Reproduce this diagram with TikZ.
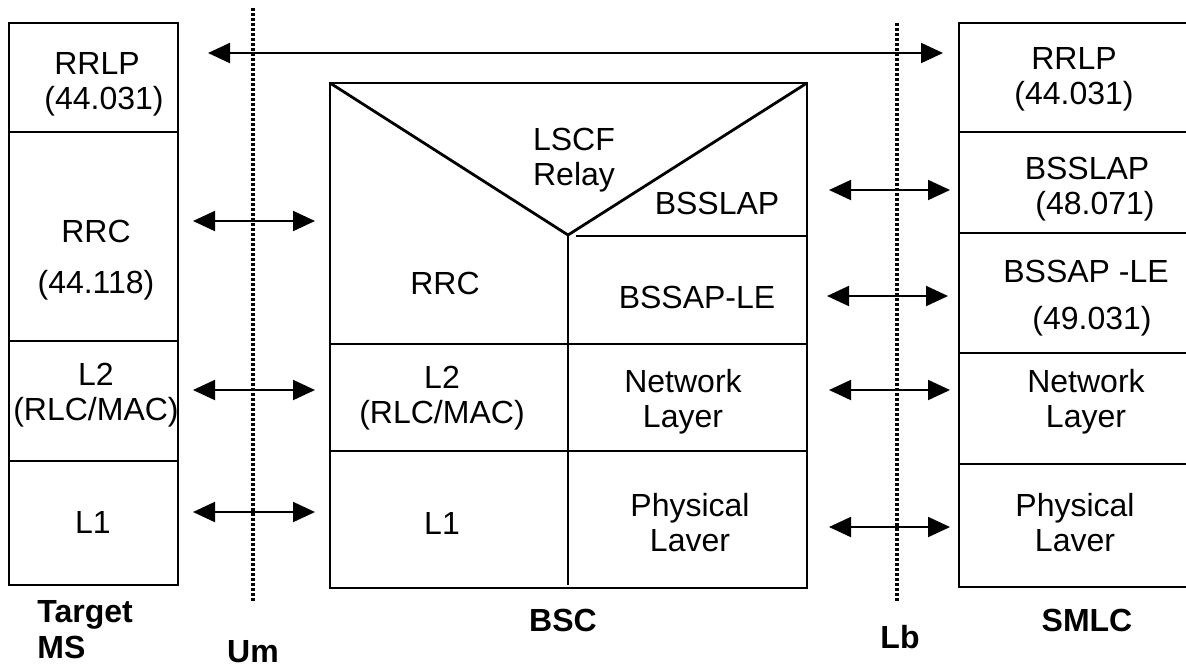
\documentclass[tikz,border=0pt]{standalone}
\usepackage{fontspec}
\setmainfont{Liberation Sans}
\usetikzlibrary{arrows.meta,positioning}

\begin{document}
\begin{tikzpicture}[x=0.5pt,y=-0.5pt,>={Triangle[length=11pt,width=10pt]},
  box/.style={line width=1.4pt},
  lbl/.style={font=\fontsize{16}{17.5}\selectfont,align=center,inner sep=0pt},
  entity/.style={font=\fontsize{16}{18}\selectfont\bfseries,inner sep=0pt},
  link/.style={<->,line width=1pt},
  iface/.style={line width=1.6pt,dash pattern=on 1.5pt off 1pt}]
  \useasboundingbox (0,0) rectangle (1186,671);

  % Target MS
  \draw[box] (9,23) rectangle (178,585);
  \foreach \y in {132,341,461} \draw[box] (9,\y) -- (178,\y);
  \node[lbl] (ms-rrlp) at (97,84) {RRLP\\\hspace*{7pt}(44.031)};
  \node[lbl] (ms-rrc) at (96,260) {RRC\\[8pt](44.118)};
  \node[lbl] (ms-l2) at (96,395) {L2\\(RLC/MAC)};
  \node[lbl] (ms-l1) at (93,522) {L1};
  \node[entity,align=left,anchor=west] (ms) at (37,630) {Target\\MS};

  % BSC
  \draw[box] (330,83) rectangle (807,588);
  \draw[box] (330,83) -- (568,235) -- (807,83);
  \draw[box] (568,235) -- (568,585);
  \draw[box] (576,236) -- (807,236);
  \draw[box] (330,344) -- (807,344);
  \draw[box] (330,451) -- (807,451);
  \node[lbl] (bsc-lscf) at (574,160) {LSCF\\Relay};
  \node[lbl] (bsc-bsslap) at (717,203) {BSSLAP};
  \node[lbl] (bsc-rrc) at (445,283) {RRC};
  \node[lbl] (bsc-bssap) at (697,297) {BSSAP-LE};
  \node[lbl] (bsc-l2) at (442,398) {L2\\(RLC/MAC)};
  \node[lbl] (bsc-net) at (683,402) {Network\\Layer};
  \node[lbl] (bsc-l1) at (442,523) {L1};
  \node[lbl] (bsc-phy) at (690,523) {Physical\\Laver};
  \node[entity] (bsc) at (563,620) {BSC};

  % SMLC
  \draw[box] (1186,23) -- (959,23) -- (959,587) -- (1186,587);
  \foreach \y in {132,233,353,464} \draw[box] (959,\y) -- (1186,\y);
  \node[lbl] (smlc-rrlp) at (1074,79) {RRLP\\(44.031)};
  \node[lbl] (smlc-bsslap) at (1087,189) {BSSLAP\\\hspace*{8pt}(48.071)};
  \node[lbl] (smlc-bssap) at (1086,298) {BSSAP -LE\\[6pt]\hspace*{6pt}(49.031)};
  \node[lbl] (smlc-net) at (1086,402) {Network\\Layer};
  \node[lbl] (smlc-phy) at (1075,523) {Physical\\Laver};
  \node[entity] (smlc) at (1087,620) {SMLC};

  % interfaces
  \coordinate (um-top) at (253,8);
  \coordinate (um-bot) at (253,603);
  \coordinate (lb-top) at (897,23);
  \coordinate (lb-bot) at (897,603);
  \draw[iface] (um-top) -- (um-bot);
  \draw[iface] (lb-top) -- (lb-bot);
  \node[entity] (um) at (253,652) {Um};
  \node[entity] (lb) at (900,637) {Lb};

  % peer links
  \coordinate (a1) at (208,53);  \coordinate (b1) at (943,53);
  \coordinate (a2) at (193,221); \coordinate (b2) at (315,221);
  \coordinate (a3) at (193,390); \coordinate (b3) at (315,390);
  \coordinate (a4) at (193,512); \coordinate (b4) at (315,512);
  \coordinate (c1) at (829,190); \coordinate (d1) at (950,190);
  \coordinate (c2) at (827,296); \coordinate (d2) at (948,296);
  \coordinate (c3) at (829,390); \coordinate (d3) at (950,390);
  \coordinate (c4) at (829,527); \coordinate (d4) at (950,527);
  \foreach \s/\t in {a1/b1,a2/b2,a3/b3,a4/b4,c1/d1,c2/d2,c3/d3,c4/d4}
    \draw[link] (\s) -- (\t);
\end{tikzpicture}
\end{document}
